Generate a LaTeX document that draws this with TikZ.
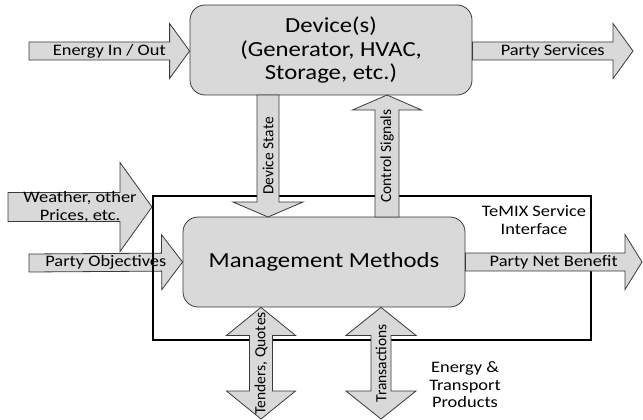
\documentclass[tikz,border=0pt]{standalone}
\usepackage{fontspec}
\setmainfont{Carlito}[FakeStretch=1.15]
\newfontfamily\uprightlbl{Carlito}
\usetikzlibrary{calc}
\definecolor{boxgray}{HTML}{D9D9D9}
\definecolor{edgegray}{HTML}{3A3A3A}
\tikzset{
  blk/.style={draw=edgegray, fill=boxgray, line width=0.8pt, line join=miter},
  lbl/.style={inner sep=0pt, font=\fontsize{16}{17.5}\selectfont},
  vlbl/.style={inner sep=0pt, rotate=90, font=\uprightlbl\fontsize{15.5}{17}\selectfont},
  unit/.style={draw=edgegray, fill=boxgray, line width=0.8pt, rounded corners=15pt,
               align=center, inner sep=0pt},
}
% single block arrow: [label opts]{name}{from}{to}{shaft half}{head half}{head length}{label}
\newcommand\blockarrow[8][]{%
  \coordinate (#2-a) at (#3);
  \coordinate (#2-b) at (#4);
  \coordinate (#2-h) at ($(#2-b)!#7pt!(#2-a)$);
  \draw[blk] ($(#2-a)!#5pt!90:(#2-b)$) -- ($(#2-h)!#5pt!90:(#2-b)$)
    -- ($(#2-h)!#6pt!90:(#2-b)$) -- (#2-b) -- ($(#2-h)!#6pt!-90:(#2-b)$)
    -- ($(#2-h)!#5pt!-90:(#2-b)$) -- ($(#2-a)!#5pt!-90:(#2-b)$) -- cycle;
  \node[lbl,#1] (#2) at ($(#2-a)!0.5!(#2-b)$) {#8};
}
% double block arrow, same arguments
\newcommand\dblarrow[8][]{%
  \coordinate (#2-a) at (#3);
  \coordinate (#2-b) at (#4);
  \coordinate (#2-ha) at ($(#2-a)!#7pt!(#2-b)$);
  \coordinate (#2-hb) at ($(#2-b)!#7pt!(#2-a)$);
  \draw[blk] (#2-a) -- ($(#2-ha)!#6pt!90:(#2-b)$) -- ($(#2-ha)!#5pt!90:(#2-b)$)
    -- ($(#2-hb)!#5pt!90:(#2-b)$) -- ($(#2-hb)!#6pt!90:(#2-b)$) -- (#2-b)
    -- ($(#2-hb)!#6pt!-90:(#2-b)$) -- ($(#2-hb)!#5pt!-90:(#2-b)$)
    -- ($(#2-ha)!#5pt!-90:(#2-b)$) -- ($(#2-ha)!#6pt!-90:(#2-b)$) -- cycle;
  \node[lbl,#1] (#2) at ($(#2-a)!0.5!(#2-b)$) {#8};
}
\begin{document}
\begin{tikzpicture}[x=1pt, y=-1pt]
  \useasboundingbox (0,0) rectangle (643,420);

  \node[unit, minimum width=282pt, minimum height=90pt,
        font=\fontsize{21.5}{23.5}\selectfont] (dev) at (331,50)
        {Device(s)\\(Generator, HVAC,\\Storage, etc.)};
  \node[unit, minimum width=282pt, minimum height=90pt,
        font=\fontsize{21.5}{24}\selectfont] (mgmt) at (324,262) {Management Methods};

  \coordinate (obj) at (29,263);
  \blockarrow{pobj}{obj}{mgmt.west}{9}{27.5}{21}{Party Objectives}

  \node[draw, line width=2pt, minimum width=438pt, minimum height=144pt] (tsi) at (372,268) {};
  \node[lbl, align=center] (tsilbl) at (534,220) {TeMIX Service\\Interface};

  \coordinate (ein) at (29,51);
  \coordinate (psv) at (633,51);
  \coordinate (wth) at (8,207);
  \coordinate (pnb) at (642,262);
  \coordinate (tqe) at (261,419);
  \coordinate (tre) at (381,419);

  \blockarrow{eio}{ein}{ein -| dev.west}{9}{27.5}{20}{Energy In / Out}
  \blockarrow{psrv}{dev.east |- psv}{psv}{9}{27.5}{20}{Party Services}
  \blockarrow[vlbl]{dstate}{268,95}{268,217}{11}{35}{15}{Device State}
  \blockarrow[vlbl]{ctrl}{387,217}{387,95}{12}{34.5}{15}{Control Signals}
  \blockarrow[align=center]{wthr}{wth}{wth -| tsi.west}{14.5}{44.5}{32}{Weather, other\\Prices, etc.}
  \blockarrow{pnet}{mgmt.east |- pnb}{pnb}{9}{27.5}{17}{Party Net Benefit}
  \dblarrow[vlbl]{tndr}{tqe |- mgmt.south}{tqe}{11.5}{34.5}{28}{Tenders, Quotes}
  \dblarrow[vlbl]{trans}{tre |- mgmt.south}{tre}{10}{35}{28}{Transactions}

  \node[lbl, align=center] (prod) at (465,385) {Energy \&\\Transport\\Products};
\end{tikzpicture}
\end{document}
